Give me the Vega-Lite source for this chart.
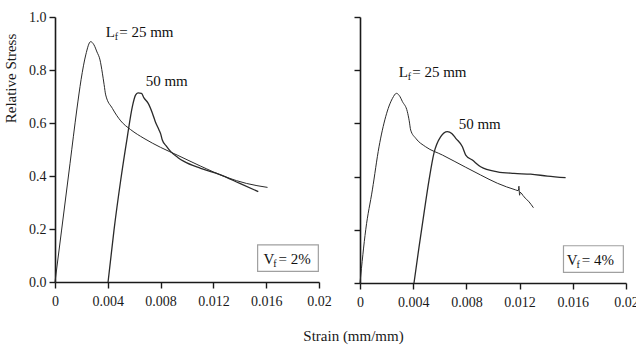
{
  "$schema": "https://vega.github.io/schema/vega-lite/v6.json",
  "background": "white",
  "padding": {"left": 2, "top": 10, "right": 2, "bottom": 2},
  "config": {
    "view": {"stroke": null},
    "axis": {
      "grid": false,
      "domainColor": "#1a1a1a",
      "domainWidth": 1.6,
      "tickColor": "#1a1a1a",
      "tickWidth": 1.4,
      "labelFont": "Liberation Serif",
      "labelFontSize": 14,
      "labelColor": "#1a1a1a",
      "titleFont": "Liberation Serif",
      "titleFontSize": 15,
      "titleFontWeight": "normal",
      "titleColor": "#1a1a1a"
    }
  },
  "datasets": {
    "curves": [
      {"p": "a", "s": "25", "i": 1, "strain": 0, "stress": 0},
      {"p": "a", "s": "25", "i": 2, "strain": 0.0005, "stress": 0.196},
      {"p": "a", "s": "25", "i": 3, "strain": 0.00114, "stress": 0.448},
      {"p": "a", "s": "25", "i": 4, "strain": 0.00165, "stress": 0.649},
      {"p": "a", "s": "25", "i": 5, "strain": 0.00198, "stress": 0.765},
      {"p": "a", "s": "25", "i": 6, "strain": 0.00233, "stress": 0.857},
      {"p": "a", "s": "25", "i": 7, "strain": 0.0027, "stress": 0.907},
      {"p": "a", "s": "25", "i": 8, "strain": 0.00295, "stress": 0.895},
      {"p": "a", "s": "25", "i": 9, "strain": 0.00318, "stress": 0.868},
      {"p": "a", "s": "25", "i": 10, "strain": 0.00341, "stress": 0.838},
      {"p": "a", "s": "25", "i": 11, "strain": 0.00359, "stress": 0.788},
      {"p": "a", "s": "25", "i": 12, "strain": 0.00372, "stress": 0.745},
      {"p": "a", "s": "25", "i": 13, "strain": 0.00384, "stress": 0.706},
      {"p": "a", "s": "25", "i": 14, "strain": 0.00435, "stress": 0.655},
      {"p": "a", "s": "25", "i": 15, "strain": 0.00498, "stress": 0.608},
      {"p": "a", "s": "25", "i": 16, "strain": 0.00573, "stress": 0.575},
      {"p": "a", "s": "25", "i": 17, "strain": 0.00674, "stress": 0.542},
      {"p": "a", "s": "25", "i": 18, "strain": 0.008, "stress": 0.508},
      {"p": "a", "s": "25", "i": 19, "strain": 0.0093, "stress": 0.478},
      {"p": "a", "s": "25", "i": 20, "strain": 0.011, "stress": 0.438},
      {"p": "a", "s": "25", "i": 21, "strain": 0.013, "stress": 0.395},
      {"p": "a", "s": "25", "i": 22, "strain": 0.0145, "stress": 0.372},
      {"p": "a", "s": "25", "i": 23, "strain": 0.0161, "stress": 0.357},

      {"p": "a", "s": "50", "i": 1, "strain": 0.00402, "stress": 0},
      {"p": "a", "s": "50", "i": 2, "strain": 0.00447, "stress": 0.196},
      {"p": "a", "s": "50", "i": 3, "strain": 0.00498, "stress": 0.385},
      {"p": "a", "s": "50", "i": 4, "strain": 0.00548, "stress": 0.548},
      {"p": "a", "s": "50", "i": 5, "strain": 0.00586, "stress": 0.662},
      {"p": "a", "s": "50", "i": 6, "strain": 0.0061, "stress": 0.705},
      {"p": "a", "s": "50", "i": 7, "strain": 0.00629, "stress": 0.714},
      {"p": "a", "s": "50", "i": 8, "strain": 0.00655, "stress": 0.712},
      {"p": "a", "s": "50", "i": 9, "strain": 0.00674, "stress": 0.695},
      {"p": "a", "s": "50", "i": 10, "strain": 0.00705, "stress": 0.675},
      {"p": "a", "s": "50", "i": 11, "strain": 0.00738, "stress": 0.637},
      {"p": "a", "s": "50", "i": 12, "strain": 0.0076, "stress": 0.605},
      {"p": "a", "s": "50", "i": 13, "strain": 0.00788, "stress": 0.574},
      {"p": "a", "s": "50", "i": 14, "strain": 0.008, "stress": 0.56},
      {"p": "a", "s": "50", "i": 15, "strain": 0.00813, "stress": 0.536},
      {"p": "a", "s": "50", "i": 16, "strain": 0.00845, "stress": 0.512},
      {"p": "a", "s": "50", "i": 17, "strain": 0.00877, "stress": 0.492},
      {"p": "a", "s": "50", "i": 18, "strain": 0.0093, "stress": 0.47},
      {"p": "a", "s": "50", "i": 19, "strain": 0.00977, "stress": 0.455},
      {"p": "a", "s": "50", "i": 20, "strain": 0.01104, "stress": 0.429},
      {"p": "a", "s": "50", "i": 21, "strain": 0.0125, "stress": 0.405},
      {"p": "a", "s": "50", "i": 22, "strain": 0.014, "stress": 0.372},
      {"p": "a", "s": "50", "i": 23, "strain": 0.0154, "stress": 0.341},

      {"p": "b", "s": "25", "i": 1, "strain": 0, "stress": 0},
      {"p": "b", "s": "25", "i": 2, "strain": 0.00043, "stress": 0.2},
      {"p": "b", "s": "25", "i": 3, "strain": 0.00093, "stress": 0.35},
      {"p": "b", "s": "25", "i": 4, "strain": 0.00143, "stress": 0.512},
      {"p": "b", "s": "25", "i": 5, "strain": 0.00193, "stress": 0.625},
      {"p": "b", "s": "25", "i": 6, "strain": 0.00244, "stress": 0.694},
      {"p": "b", "s": "25", "i": 7, "strain": 0.00274, "stress": 0.713},
      {"p": "b", "s": "25", "i": 8, "strain": 0.00295, "stress": 0.705},
      {"p": "b", "s": "25", "i": 9, "strain": 0.00319, "stress": 0.682},
      {"p": "b", "s": "25", "i": 10, "strain": 0.00356, "stress": 0.644},
      {"p": "b", "s": "25", "i": 11, "strain": 0.0037, "stress": 0.61},
      {"p": "b", "s": "25", "i": 12, "strain": 0.00381, "stress": 0.575},
      {"p": "b", "s": "25", "i": 13, "strain": 0.00419, "stress": 0.544},
      {"p": "b", "s": "25", "i": 14, "strain": 0.00494, "stress": 0.512},
      {"p": "b", "s": "25", "i": 15, "strain": 0.0062, "stress": 0.481},
      {"p": "b", "s": "25", "i": 16, "strain": 0.00795, "stress": 0.435},
      {"p": "b", "s": "25", "i": 17, "strain": 0.00907, "stress": 0.406},
      {"p": "b", "s": "25", "i": 18, "strain": 0.01033, "stress": 0.375},
      {"p": "b", "s": "25", "i": 19, "strain": 0.0117, "stress": 0.35},
      {"p": "b", "s": "25", "i": 20, "strain": 0.0119, "stress": 0.347},
      {"p": "b", "s": "25", "i": 21, "strain": 0.01195, "stress": 0.364},
      {"p": "b", "s": "25", "i": 22, "strain": 0.012, "stress": 0.33},
      {"p": "b", "s": "25", "i": 23, "strain": 0.01203, "stress": 0.341},
      {"p": "b", "s": "25", "i": 24, "strain": 0.01233, "stress": 0.324},
      {"p": "b", "s": "25", "i": 25, "strain": 0.01271, "stress": 0.305},
      {"p": "b", "s": "25", "i": 26, "strain": 0.01304, "stress": 0.283},

      {"p": "b", "s": "50", "i": 1, "strain": 0.00406, "stress": 0},
      {"p": "b", "s": "50", "i": 2, "strain": 0.00444, "stress": 0.136},
      {"p": "b", "s": "50", "i": 3, "strain": 0.00481, "stress": 0.262},
      {"p": "b", "s": "50", "i": 4, "strain": 0.00519, "stress": 0.387},
      {"p": "b", "s": "50", "i": 5, "strain": 0.00556, "stress": 0.488},
      {"p": "b", "s": "50", "i": 6, "strain": 0.00607, "stress": 0.55},
      {"p": "b", "s": "50", "i": 7, "strain": 0.00657, "stress": 0.569},
      {"p": "b", "s": "50", "i": 8, "strain": 0.0069, "stress": 0.562},
      {"p": "b", "s": "50", "i": 9, "strain": 0.0072, "stress": 0.544},
      {"p": "b", "s": "50", "i": 10, "strain": 0.0077, "stress": 0.512},
      {"p": "b", "s": "50", "i": 11, "strain": 0.00795, "stress": 0.481},
      {"p": "b", "s": "50", "i": 12, "strain": 0.00845, "stress": 0.462},
      {"p": "b", "s": "50", "i": 13, "strain": 0.00907, "stress": 0.437},
      {"p": "b", "s": "50", "i": 14, "strain": 0.01033, "stress": 0.418},
      {"p": "b", "s": "50", "i": 15, "strain": 0.01158, "stress": 0.412},
      {"p": "b", "s": "50", "i": 16, "strain": 0.01283, "stress": 0.409},
      {"p": "b", "s": "50", "i": 17, "strain": 0.01409, "stress": 0.402},
      {"p": "b", "s": "50", "i": 18, "strain": 0.01546, "stress": 0.396}
    ],
    "lf": [
      {"p": "a", "x": 0.00384, "y": 0.925, "main": "L", "sub": "f", "rest": "= 25 mm"},
      {"p": "b", "x": 0.00291, "y": 0.774, "main": "L", "sub": "f", "rest": "= 25 mm"}
    ],
    "mm50": [
      {"p": "a", "x": 0.00687, "y": 0.74, "t": "50 mm"},
      {"p": "b", "x": 0.00742, "y": 0.579, "t": "50 mm"}
    ],
    "vf": [
      {"p": "a", "x": 0.0158, "y": 0.068, "main": "V", "sub": "f", "rest": "= 2%"},
      {"p": "b", "x": 0.01555, "y": 0.068, "main": "V", "sub": "f", "rest": "= 4%"}
    ],
    "box": [
      {"p": "a", "x1": 0.01535, "x2": 0.01995, "y1": 0.04, "y2": 0.14},
      {"p": "b", "x1": 0.0153, "x2": 0.0198, "y1": 0.04, "y2": 0.14}
    ]
  },
  "hconcat": [
    {
      "width": 264,
      "height": 265,
      "layer": [
        {
          "data": {"name": "box"},
          "transform": [{"filter": "datum.p === 'a'"}],
          "mark": {"type": "rect", "fill": "white", "stroke": "#a0a0a0", "strokeWidth": 1.2},
          "encoding": {
            "x": {
              "field": "x1", "type": "quantitative",
              "scale": {"domain": [0, 0.02], "nice": false, "zero": false},
              "axis": {
                "title": "Strain (mm/mm)",
                "titleX": 298, "titleY": 58, "titleAlign": "center", "titleBaseline": "alphabetic", "titleAnchor": null,
                "values": [0, 0.002, 0.004, 0.006, 0.008, 0.01, 0.012, 0.014, 0.016, 0.018, 0.02],
                "labelExpr": "round(datum.value * 1000) % 4 === 0 ? format(datum.value, '~g') : ''",
                "tickSize": {"condition": {"test": "round(datum.value * 1000) % 4 === 0", "value": 6}, "value": 3},
                "labelPadding": 6, "labelFlush": false, "labelOverlap": false
              }
            },
            "x2": {"field": "x2"},
            "y": {
              "field": "y1", "type": "quantitative",
              "scale": {"domain": [0, 1], "nice": false, "zero": false},
              "axis": {
                "title": "Relative Stress",
                "titleX": -40, "titleY": 61, "titleAngle": -90, "titleAlign": "center", "titleBaseline": "alphabetic", "titleAnchor": null,
                "values": [0, 0.1, 0.2, 0.3, 0.4, 0.5, 0.6, 0.7, 0.8, 0.9, 1],
                "labelExpr": "round(datum.value * 10) % 2 === 0 ? format(datum.value, '.1f') : ''",
                "tickSize": {"condition": {"test": "round(datum.value * 10) % 2 === 0", "value": 6}, "value": 3},
                "labelPadding": 3, "labelFlush": false, "labelOverlap": false
              }
            },
            "y2": {"field": "y2"}
          }
        },
        {
          "data": {"name": "curves"},
          "transform": [{"filter": "datum.p === 'a'"}],
          "mark": {"type": "line", "color": "#2a2a2a", "interpolate": "monotone"},
          "encoding": {
            "x": {"field": "strain", "type": "quantitative"},
            "y": {"field": "stress", "type": "quantitative"},
            "detail": {"field": "s"},
            "order": {"field": "i", "type": "quantitative"},
            "strokeWidth": {"field": "s", "type": "nominal", "scale": {"domain": ["25", "50"], "range": [1, 1.3]}, "legend": null}
          }
        },
        {
          "data": {"name": "lf"},
          "transform": [{"filter": "datum.p === 'a'"}],
          "mark": {"type": "text", "font": "Liberation Serif", "fontSize": 15, "align": "left", "baseline": "alphabetic", "color": "#111"},
          "encoding": {"x": {"field": "x", "type": "quantitative"}, "y": {"field": "y", "type": "quantitative"}, "text": {"field": "main"}}
        },
        {
          "data": {"name": "lf"},
          "transform": [{"filter": "datum.p === 'a'"}],
          "mark": {"type": "text", "font": "Liberation Serif", "fontSize": 10, "align": "left", "baseline": "alphabetic", "dx": 9, "dy": 3, "color": "#111"},
          "encoding": {"x": {"field": "x", "type": "quantitative"}, "y": {"field": "y", "type": "quantitative"}, "text": {"field": "sub"}}
        },
        {
          "data": {"name": "lf"},
          "transform": [{"filter": "datum.p === 'a'"}],
          "mark": {"type": "text", "font": "Liberation Serif", "fontSize": 15, "align": "left", "baseline": "alphabetic", "dx": 13.5, "color": "#111"},
          "encoding": {"x": {"field": "x", "type": "quantitative"}, "y": {"field": "y", "type": "quantitative"}, "text": {"field": "rest"}}
        },
        {
          "data": {"name": "mm50"},
          "transform": [{"filter": "datum.p === 'a'"}],
          "mark": {"type": "text", "font": "Liberation Serif", "fontSize": 15, "align": "left", "baseline": "alphabetic", "color": "#111"},
          "encoding": {"x": {"field": "x", "type": "quantitative"}, "y": {"field": "y", "type": "quantitative"}, "text": {"field": "t"}}
        },
        {
          "data": {"name": "vf"},
          "transform": [{"filter": "datum.p === 'a'"}],
          "mark": {"type": "text", "font": "Liberation Serif", "fontSize": 15, "align": "left", "baseline": "alphabetic", "color": "#111"},
          "encoding": {"x": {"field": "x", "type": "quantitative"}, "y": {"field": "y", "type": "quantitative"}, "text": {"field": "main"}}
        },
        {
          "data": {"name": "vf"},
          "transform": [{"filter": "datum.p === 'a'"}],
          "mark": {"type": "text", "font": "Liberation Serif", "fontSize": 10, "align": "left", "baseline": "alphabetic", "dx": 9.8, "dy": 3, "color": "#111"},
          "encoding": {"x": {"field": "x", "type": "quantitative"}, "y": {"field": "y", "type": "quantitative"}, "text": {"field": "sub"}}
        },
        {
          "data": {"name": "vf"},
          "transform": [{"filter": "datum.p === 'a'"}],
          "mark": {"type": "text", "font": "Liberation Serif", "fontSize": 15, "align": "left", "baseline": "alphabetic", "dx": 15, "color": "#111"},
          "encoding": {"x": {"field": "x", "type": "quantitative"}, "y": {"field": "y", "type": "quantitative"}, "text": {"field": "rest"}}
        }
      ]
    },
    {
      "width": 266,
      "height": 266,
      "layer": [
        {
          "data": {"name": "box"},
          "transform": [{"filter": "datum.p === 'b'"}],
          "mark": {"type": "rect", "fill": "white", "stroke": "#a0a0a0", "strokeWidth": 1.2},
          "encoding": {
            "x": {
              "field": "x1", "type": "quantitative",
              "scale": {"domain": [0, 0.02], "nice": false, "zero": false},
              "axis": {
                "title": null,
                "values": [0, 0.002, 0.004, 0.006, 0.008, 0.01, 0.012, 0.014, 0.016, 0.018, 0.02],
                "labelExpr": "round(datum.value * 1000) % 4 === 0 ? format(datum.value, '~g') : ''",
                "tickSize": {"condition": {"test": "round(datum.value * 1000) % 4 === 0", "value": 6}, "value": 3},
                "labelPadding": 6, "labelFlush": false, "labelOverlap": false
              }
            },
            "x2": {"field": "x2"},
            "y": {
              "field": "y1", "type": "quantitative",
              "scale": {"domain": [0, 1], "nice": false, "zero": false},
              "axis": {
                "title": null,
                "labels": false,
                "values": [0, 0.1, 0.2, 0.3, 0.4, 0.5, 0.6, 0.7, 0.8, 0.9, 1],
                "tickSize": {"condition": {"test": "round(datum.value * 10) % 2 === 0", "value": 6}, "value": 3}
              }
            },
            "y2": {"field": "y2"}
          }
        },
        {
          "data": {"name": "curves"},
          "transform": [{"filter": "datum.p === 'b'"}],
          "mark": {"type": "line", "color": "#2a2a2a", "interpolate": "monotone"},
          "encoding": {
            "x": {"field": "strain", "type": "quantitative"},
            "y": {"field": "stress", "type": "quantitative"},
            "detail": {"field": "s"},
            "order": {"field": "i", "type": "quantitative"},
            "strokeWidth": {"field": "s", "type": "nominal", "scale": {"domain": ["25", "50"], "range": [1, 1.3]}, "legend": null}
          }
        },
        {
          "data": {"name": "lf"},
          "transform": [{"filter": "datum.p === 'b'"}],
          "mark": {"type": "text", "font": "Liberation Serif", "fontSize": 15, "align": "left", "baseline": "alphabetic", "color": "#111"},
          "encoding": {"x": {"field": "x", "type": "quantitative"}, "y": {"field": "y", "type": "quantitative"}, "text": {"field": "main"}}
        },
        {
          "data": {"name": "lf"},
          "transform": [{"filter": "datum.p === 'b'"}],
          "mark": {"type": "text", "font": "Liberation Serif", "fontSize": 10, "align": "left", "baseline": "alphabetic", "dx": 9, "dy": 3, "color": "#111"},
          "encoding": {"x": {"field": "x", "type": "quantitative"}, "y": {"field": "y", "type": "quantitative"}, "text": {"field": "sub"}}
        },
        {
          "data": {"name": "lf"},
          "transform": [{"filter": "datum.p === 'b'"}],
          "mark": {"type": "text", "font": "Liberation Serif", "fontSize": 15, "align": "left", "baseline": "alphabetic", "dx": 13.5, "color": "#111"},
          "encoding": {"x": {"field": "x", "type": "quantitative"}, "y": {"field": "y", "type": "quantitative"}, "text": {"field": "rest"}}
        },
        {
          "data": {"name": "mm50"},
          "transform": [{"filter": "datum.p === 'b'"}],
          "mark": {"type": "text", "font": "Liberation Serif", "fontSize": 15, "align": "left", "baseline": "alphabetic", "color": "#111"},
          "encoding": {"x": {"field": "x", "type": "quantitative"}, "y": {"field": "y", "type": "quantitative"}, "text": {"field": "t"}}
        },
        {
          "data": {"name": "vf"},
          "transform": [{"filter": "datum.p === 'b'"}],
          "mark": {"type": "text", "font": "Liberation Serif", "fontSize": 15, "align": "left", "baseline": "alphabetic", "color": "#111"},
          "encoding": {"x": {"field": "x", "type": "quantitative"}, "y": {"field": "y", "type": "quantitative"}, "text": {"field": "main"}}
        },
        {
          "data": {"name": "vf"},
          "transform": [{"filter": "datum.p === 'b'"}],
          "mark": {"type": "text", "font": "Liberation Serif", "fontSize": 10, "align": "left", "baseline": "alphabetic", "dx": 9.8, "dy": 3, "color": "#111"},
          "encoding": {"x": {"field": "x", "type": "quantitative"}, "y": {"field": "y", "type": "quantitative"}, "text": {"field": "sub"}}
        },
        {
          "data": {"name": "vf"},
          "transform": [{"filter": "datum.p === 'b'"}],
          "mark": {"type": "text", "font": "Liberation Serif", "fontSize": 15, "align": "left", "baseline": "alphabetic", "dx": 15, "color": "#111"},
          "encoding": {"x": {"field": "x", "type": "quantitative"}, "y": {"field": "y", "type": "quantitative"}, "text": {"field": "rest"}}
        }
      ]
    }
  ],
  "spacing": 41,
  "bounds": "flush"
}
